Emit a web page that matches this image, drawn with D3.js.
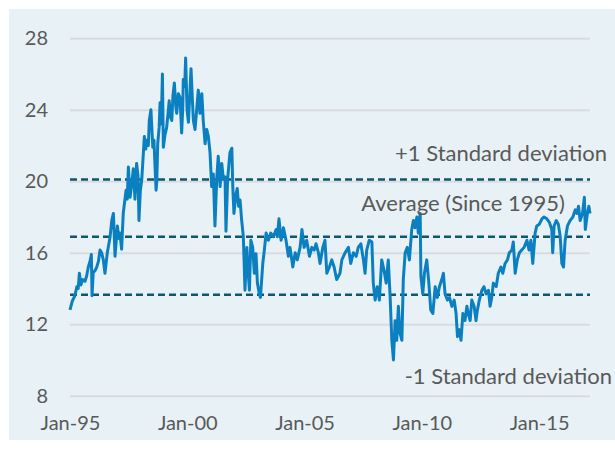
<!DOCTYPE html>
<html>
<head>
<meta charset="utf-8">
<script src="https://cdn.jsdelivr.net/npm/d3@7"></script>
<style>
  html, body { margin: 0; padding: 0; background: #ffffff; }
  svg { display: block; }
  text { font-family: Lato, "Open Sans", sans-serif; fill: #595959; }
</style>
</head>
<body>
<svg id="chart" width="615" height="449"></svg>
<script>
// Forward P/E history, sampled by decimal year
const years = [
  1995.00,1995.10,1995.21,1995.29,1995.35,1995.40,1995.46,1995.54,1995.64,1995.71,1995.78,1995.85,1995.91,1995.94,1995.99,
  1996.07,1996.14,1996.21,1996.28,1996.35,1996.42,1996.49,1996.59,1996.71,1996.78,1996.85,1996.92,
  1997.02,1997.08,1997.13,1997.20,1997.27,1997.39,1997.44,1997.49,1997.56,1997.63,1997.70,1997.77,1997.84,1997.90,1997.94,
  1998.00,1998.06,1998.17,1998.23,1998.27,1998.34,1998.38,1998.45,1998.53,1998.58,1998.62,1998.67,1998.70,1998.74,1998.80,1998.84,1998.89,1998.94,1998.98,
  1999.05,1999.12,1999.18,1999.23,1999.28,1999.34,1999.39,1999.45,1999.51,1999.55,1999.62,1999.69,1999.76,1999.81,1999.83,1999.89,1999.93,1999.99,
  2000.05,2000.16,2000.22,2000.26,2000.33,2000.40,2000.47,2000.54,2000.62,2000.68,2000.76,2000.83,2000.90,2000.97,
  2001.04,2001.11,2001.18,2001.26,2001.32,2001.40,2001.47,2001.54,2001.61,2001.65,2001.72,2001.82,2001.90,2001.94,2001.99,
  2002.08,2002.13,2002.19,2002.25,2002.32,2002.39,2002.46,2002.54,2002.60,2002.65,2002.71,2002.79,2002.86,2002.93,2002.99,
  2003.07,2003.12,2003.22,2003.29,2003.36,2003.46,2003.56,2003.67,2003.79,2003.84,2003.91,
  2004.00,2004.10,2004.21,2004.31,2004.38,2004.50,2004.60,2004.69,2004.81,2004.89,2004.98,
  2005.09,2005.21,2005.31,2005.41,2005.49,2005.59,2005.66,2005.78,2005.87,2005.95,
  2006.06,2006.16,2006.26,2006.37,2006.51,2006.59,2006.73,2006.87,2006.97,
  2007.08,2007.20,2007.29,2007.40,2007.51,2007.58,2007.65,2007.76,2007.87,2007.93,
  2008.01,2008.10,2008.19,2008.29,2008.39,2008.48,2008.57,2008.65,2008.72,2008.79,2008.86,2008.93,
  2009.00,2009.07,2009.15,2009.21,2009.29,2009.38,2009.47,2009.57,2009.64,2009.71,2009.79,2009.85,2009.93,2009.96,
  2010.04,2010.11,2010.21,2010.30,2010.38,2010.47,2010.57,2010.66,2010.75,2010.85,2010.92,2010.99,
  2011.09,2011.18,2011.28,2011.38,2011.46,2011.52,2011.60,2011.67,2011.75,2011.84,2011.92,2011.98,
  2012.06,2012.13,2012.23,2012.31,2012.37,2012.45,2012.56,2012.65,2012.74,2012.84,2012.91,2012.98,
  2013.05,2013.17,2013.26,2013.37,2013.45,2013.55,2013.65,2013.73,2013.84,2013.90,2013.98,
  2014.07,2014.16,2014.26,2014.36,2014.48,2014.57,2014.65,2014.73,2014.83,2014.90,
  2015.01,2015.12,2015.21,2015.33,2015.44,2015.54,2015.58,2015.64,2015.73,2015.82,2015.90,2015.97,
  2016.04,2016.11,2016.21,2016.32,2016.44,2016.54,2016.61,2016.68,2016.75,2016.85,2016.93,2016.97,
  2017.06,2017.12,2017.17
];

const peRatio = [
  12.8,13.3,13.6,14.1,14.0,14.85,14.2,14.5,14.4,14.7,15.2,15.5,15.9,13.6,14.9,
  15.0,15.2,15.5,16.15,16.0,15.6,14.85,16.0,16.9,17.8,18.2,15.8,
  17.5,16.8,17.1,16.2,18.2,19.5,19.0,20.8,19.1,19.8,20.7,19.0,21.0,20.3,17.8,
  19.5,20.1,22.5,21.8,22.3,22.0,23.4,24.0,21.9,22.3,21.0,19.5,20.0,22.1,23.0,24.4,23.2,26.0,21.9,
  22.6,23.0,23.8,24.5,23.6,23.4,24.8,25.5,24.2,23.8,24.9,24.7,22.7,24.2,25.7,25.3,26.9,24.0,
  23.3,26.3,24.5,23.4,22.9,24.0,25.1,23.8,24.9,23.4,22.1,22.9,22.5,21.6,
  19.7,20.4,17.5,20.25,21.4,19.7,21.0,20.1,20.25,17.2,20.1,21.6,21.85,19.7,18.2,
  19.3,19.6,18.6,18.95,17.8,16.9,13.9,16.3,14.85,13.9,16.7,16.3,14.85,15.95,14.3,
  13.7,13.5,15.4,16.2,17.1,16.7,17.1,16.9,17.3,16.9,17.9,
  16.7,17.4,16.7,15.8,16.3,15.2,16.0,15.6,16.3,17.3,16.3,
  16.7,15.8,16.3,16.15,16.5,16.0,15.4,16.3,16.7,14.85,
  15.2,15.6,15.2,14.5,14.85,15.6,16.0,16.3,15.4,
  16.0,15.8,16.3,16.5,15.6,14.85,16.15,16.7,16.6,14.3,
  13.35,14.1,13.35,15.6,15.0,14.3,15.6,13.5,11.1,10.0,12.2,11.1,
  13.0,11.5,11.1,14.5,16.0,16.3,15.6,17.3,17.8,17.4,18.0,17.1,18.2,14.7,
  13.7,14.85,15.6,14.3,12.8,12.6,14.1,13.5,14.1,14.5,14.85,13.7,
  13.35,13.5,13.0,13.35,12.6,11.3,11.7,11.1,12.6,12.2,13.0,12.6,
  12.2,13.35,13.0,12.2,12.8,13.35,13.9,14.1,13.7,13.9,13.0,13.5,
  14.3,14.1,14.85,15.2,14.85,15.4,15.6,16.0,16.15,16.6,14.85,
  15.6,16.0,16.15,16.3,16.7,16.15,16.7,15.4,17.1,17.5,
  17.6,17.9,18.0,17.9,17.7,17.3,16.0,17.5,17.8,17.6,16.9,15.4,
  15.2,16.7,17.5,17.8,18.0,18.4,18.2,18.6,17.8,18.2,19.1,17.3,
  18.2,18.6,18.2
];

// Reference levels: long-run average and one standard deviation either side
const bandValues = [20.1, 16.9, 13.65];
const bandLabels = ["+1 Standard deviation", "Average (Since 1995)", "-1 Standard deviation"];

const yTicks = [8, 12, 16, 20, 24, 28];
const xTickYears = [1995, 2000, 2005, 2010, 2015];
const xTickLabels = ["Jan-95", "Jan-00", "Jan-05", "Jan-10", "Jan-15"];

const W = 615, H = 449;
const svg = d3.select("#chart");

// panel background
svg.append("rect")
  .attr("x", 9).attr("y", 9)
  .attr("width", W - 9).attr("height", 431)
  .attr("fill", "#e8f1f5");

const x = d3.scaleLinear().domain([1995, 2017.17]).range([70, 590]);
const y = d3.scaleLinear().domain([8, 28]).range([395.7, 38.3]);

// horizontal gridlines
const yAxis = d3.axisLeft(y).tickValues(yTicks).tickSize(-(590 - 70)).tickPadding(22).tickFormat(d3.format("d"));
const gy = svg.append("g").attr("transform", "translate(70,0)").call(yAxis);
gy.select(".domain").remove();
gy.selectAll(".tick line").attr("stroke", "#d8dcdf").attr("stroke-width", 2);
gy.selectAll(".tick text").attr("font-size", 20).attr("fill", "#595959")
  .style("font-family", "Lato, 'Open Sans', sans-serif");

// x axis labels
const xAxis = d3.axisBottom(x).tickValues(xTickYears).tickSize(0).tickPadding(0)
  .tickFormat((d, i) => xTickLabels[i]);
const gx = svg.append("g").attr("transform", "translate(0,411)").call(xAxis);
gx.select(".domain").remove();
gx.selectAll(".tick text").attr("font-size", 20).attr("fill", "#595959")
  .attr("dy", "0.95em")
  .style("font-family", "Lato, 'Open Sans', sans-serif");

// standard deviation band lines
svg.append("g").selectAll("line").data(bandValues).join("line")
  .attr("x1", 70).attr("x2", 590)
  .attr("y1", d => y(d)).attr("y2", d => y(d))
  .attr("stroke", "#10566e").attr("stroke-width", 2.5)
  .attr("stroke-dasharray", "7,4");

// P/E series
const series = years.map((t, i) => [t, peRatio[i]]);
svg.append("path")
  .datum(series)
  .attr("fill", "none")
  .attr("stroke", "#0b80c1")
  .attr("stroke-width", 3)
  .attr("stroke-linejoin", "round")
  .attr("d", d3.line().x(d => x(d[0])).y(d => y(d[1])));

// band labels
const labelPos = [
  { x: 607, y: 161 },
  { x: 565, y: 211 },
  { x: 612, y: 384 }
];
svg.append("g").selectAll("text").data(bandLabels).join("text")
  .attr("x", (d, i) => labelPos[i].x)
  .attr("y", (d, i) => labelPos[i].y)
  .attr("text-anchor", "end")
  .attr("font-size", 22)
  .text(d => d);
</script>
</body>
</html>
